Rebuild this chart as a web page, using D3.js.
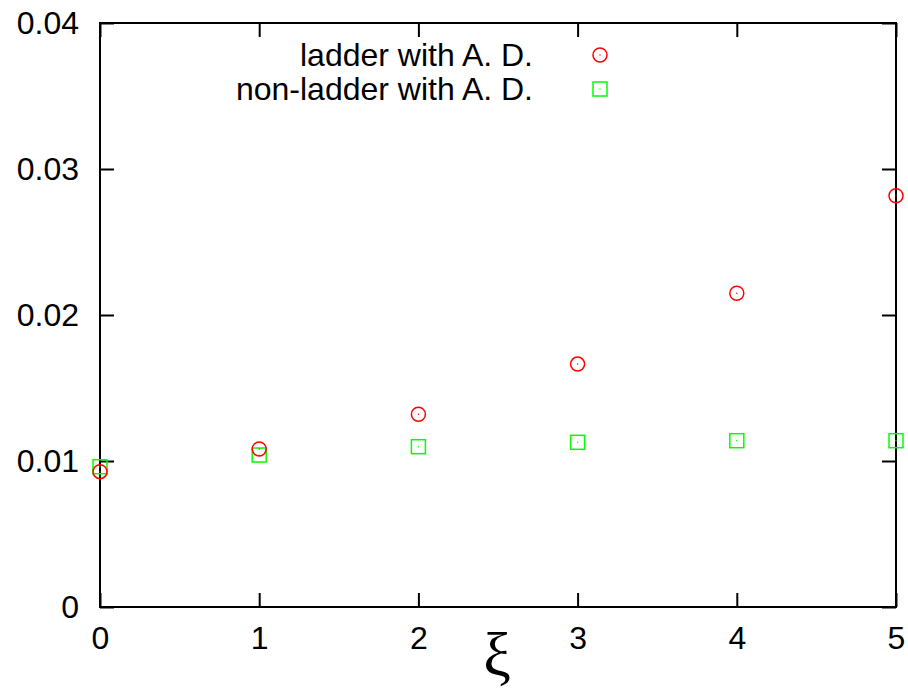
<!DOCTYPE html>
<html>
<head>
<meta charset="utf-8">
<script src="https://cdn.jsdelivr.net/npm/d3@7"></script>
<style>
  body { margin: 0; background: #fff; }
  text { font-family: "Liberation Sans", Arial, sans-serif; }
</style>
</head>
<body>
<div id="chart"></div>
<script>
// data
const xiValues = [0, 1, 2, 3, 4, 5];
const ladderAD = [0.00927, 0.01082, 0.0132, 0.01664, 0.02149, 0.02817];
const nonLadderAD = [0.00961, 0.01041, 0.01098, 0.01128, 0.01139, 0.01139];
const xTicks = [0, 1, 2, 3, 4, 5];
const yTicks = [0, 0.01, 0.02, 0.03, 0.04];
const seriesNames = ["ladder with A. D.", "non-ladder with A. D."];

const W = 908, H = 699;
const margin = { top: 23, right: 12, bottom: 92, left: 100 };
const width = W - margin.left - margin.right;
const height = H - margin.top - margin.bottom;

const svg = d3.select("#chart")
    .append("svg")
    .attr("width", W)
    .attr("height", H);

const g = svg.append("g")
    .attr("transform", `translate(${margin.left},${margin.top})`);

const x = d3.scaleLinear().domain([0, 5]).range([0, width]);
const y = d3.scaleLinear().domain([0, 0.04]).range([height, 0]);

const fmtY = d => d === 0 ? "0" : d3.format(".2f")(d);

function styleAxis(sel) {
    sel.select(".domain").remove();
    sel.selectAll(".tick line").attr("stroke", "#000").attr("stroke-width", 2);
    sel.selectAll(".tick text")
        .attr("fill", "#000")
        .style("font-size", "32px")
        .style("font-family", "'Liberation Sans', Arial, sans-serif");
}

g.append("g")
    .call(d3.axisLeft(y).tickValues(yTicks).tickFormat(fmtY).tickSize(-14).tickPadding(21))
    .call(styleAxis);

g.append("g")
    .attr("transform", `translate(${width},0)`)
    .call(d3.axisRight(y).tickValues(yTicks).tickFormat("").tickSize(-14))
    .call(styleAxis);

g.append("g")
    .attr("transform", `translate(0,${height})`)
    .call(d3.axisBottom(x).tickValues(xTicks).tickFormat(d3.format("d")).tickSize(-14).tickPadding(19))
    .call(styleAxis);

g.append("g")
    .call(d3.axisTop(x).tickValues(xTicks).tickFormat("").tickSize(-14))
    .call(styleAxis);

// frame
g.append("rect")
    .attr("width", width)
    .attr("height", height)
    .attr("fill", "none")
    .attr("stroke", "#000")
    .attr("stroke-width", 2);

// x label
svg.append("text")
    .attr("x", 497)
    .attr("y", 675)
    .attr("text-anchor", "middle")
    .style("font-family", "'Liberation Serif', 'DejaVu Serif', serif")
    .style("font-size", "62px")
    .text("ξ");

function circleMark(sel, cx, cy) {
    sel.append("circle").attr("cx", cx).attr("cy", cy).attr("r", 7)
        .attr("fill", "none").attr("stroke", "#ff0000").attr("stroke-width", 1.5);
    sel.append("circle").attr("cx", cx).attr("cy", cy).attr("r", 0.7).attr("fill", "#ff0000");
}

function squareMark(sel, cx, cy) {
    sel.append("rect").attr("x", cx - 7).attr("y", cy - 7).attr("width", 14).attr("height", 14)
        .attr("fill", "none").attr("stroke", "#00ff00").attr("stroke-width", 1.5);
    sel.append("circle").attr("cx", cx).attr("cy", cy).attr("r", 0.7).attr("fill", "#00ff00");
}

const pts = g.append("g");
xiValues.forEach((xi, i) => {
    squareMark(pts, x(xi), y(nonLadderAD[i]));
});
xiValues.forEach((xi, i) => {
    circleMark(pts, x(xi), y(ladderAD[i]));
});

// legend
const legend = svg.append("g");
const markers = [circleMark, squareMark];
seriesNames.forEach((name, i) => {
    const ly = 55 + i * 34;
    legend.append("text")
        .attr("x", 533)
        .attr("y", ly)
        .attr("dy", "0.35em")
        .attr("text-anchor", "end")
        .style("font-size", "32px")
        .text(name);
    markers[i](legend, 600, ly);
});
</script>
</body>
</html>
